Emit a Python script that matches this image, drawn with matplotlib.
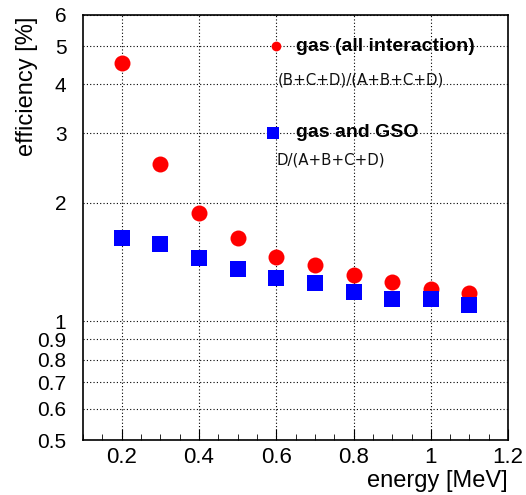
import matplotlib
matplotlib.use('Agg')
import matplotlib.pyplot as plt
from matplotlib.ticker import FixedLocator, FixedFormatter, MultipleLocator, NullLocator

plt.rcParams['font.family'] = ['Liberation Sans', 'DejaVu Sans']

# data
energy = [0.2, 0.3, 0.4, 0.5, 0.6, 0.7, 0.8, 0.9, 1.0, 1.1]
eff_all = [4.52, 2.51, 1.89, 1.63, 1.46, 1.39, 1.31, 1.26, 1.21, 1.18]
eff_gso = [1.63, 1.57, 1.45, 1.36, 1.29, 1.25, 1.19, 1.14, 1.14, 1.10]

y_ticks = [0.5, 0.6, 0.7, 0.8, 0.9, 1, 2, 3, 4, 5, 6]
y_labels = ['0.5', '0.6', '0.7', '0.8', '0.9', '1', '2', '3', '4', '5', '6']

fig = plt.figure(figsize=(5.26, 4.95), dpi=100)
ax = fig.add_axes([0.158, 0.111, 0.808, 0.859])

ax.plot(energy, eff_all, 'o', color='red', markersize=11.5, markeredgewidth=0, zorder=3)
ax.plot(energy, eff_gso, 's', color='blue', markersize=11, markeredgewidth=0, zorder=4)

ax.set_yscale('log')
ax.set_xlim(0.1, 1.2)
ax.set_ylim(0.5, 6)

ax.yaxis.set_major_locator(FixedLocator(y_ticks))
ax.yaxis.set_major_formatter(FixedFormatter(y_labels))
ax.yaxis.set_minor_locator(NullLocator())
ax.xaxis.set_major_locator(MultipleLocator(0.2))
ax.xaxis.set_minor_locator(MultipleLocator(0.05))
ax.xaxis.set_major_formatter(plt.FuncFormatter(lambda v, p: ('%g' % round(v, 2))))

ax.tick_params(axis='x', which='major', direction='in', length=8, labelsize=16, pad=5)
ax.tick_params(axis='x', which='minor', direction='in', length=4)
ax.tick_params(axis='y', which='major', length=0, labelsize=15, pad=12)

ax.grid(True, which='major', color='black', linestyle=(0, (1, 2)), linewidth=0.8)
for s in ax.spines.values():
    s.set_linewidth(1.2)

ax.set_ylabel('efficiency [%]', fontsize=17)
ax.yaxis.set_label_coords(-0.132, 0.995)
ax.yaxis.label.set_horizontalalignment('right')
ax.yaxis.label.set_verticalalignment('center')
ax.set_xlabel('energy [MeV]', fontsize=17)
ax.xaxis.set_label_coords(1.0, -0.07)
ax.xaxis.label.set_horizontalalignment('right')
ax.xaxis.label.set_verticalalignment('top')

# legend drawn as text inside the frame
ax.plot([0.6], [5.0], 'o', color='red', markersize=7, markeredgewidth=0)
ax.text(0.652, 5.0, 'gas (all interaction)', fontsize=14, fontweight='bold', va='center')
ax.text(0.603, 4.1, '(B+C+D)/(A+B+C+D)', fontsize=10.8,
        family='DejaVu Sans', va='center', color='#111111')
ax.plot([0.592], [3.01], 's', color='blue', markersize=8, markeredgewidth=0)
ax.text(0.652, 3.01, 'gas and GSO', fontsize=14, fontweight='bold', va='center')
ax.text(0.6, 2.57, 'D/(A+B+C+D)', fontsize=10.8,
        family='DejaVu Sans', va='center', color='#111111')

fig.savefig('out.png', dpi=100)
